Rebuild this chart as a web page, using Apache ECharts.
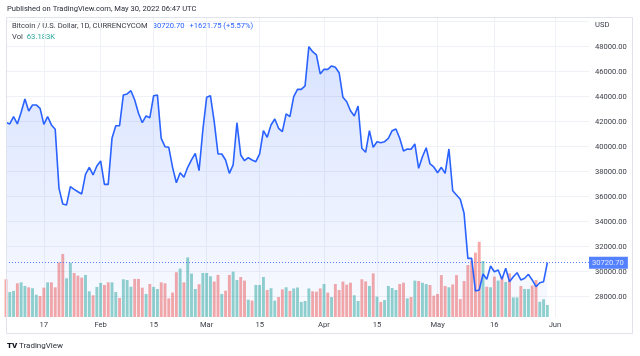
<!DOCTYPE html>
<html><head><meta charset="utf-8">
<script src="https://cdn.jsdelivr.net/npm/echarts@6/dist/echarts.min.js"></script>
<style>html,body{margin:0;padding:0;background:#fff}#c{width:640px;height:356px}</style>
</head><body><div id="c"></div>
<script>
// ---- data ----
const startDate = [2022, 0, 7];      // first visible day (Jan 7, 2022)
const dayCount = 155;                // daily categories up to the right edge of the pane
const tickDates = ['2022-01-17','2022-02-01','2022-02-15','2022-03-01','2022-03-15','2022-04-01','2022-04-15','2022-05-01','2022-05-16','2022-06-01'];
const tickLabels = ['17','Feb','15','Mar','15','Apr','15','May','16','Jun'];

// daily close, USD
const closes = [
 41930,41820,42400,41820,42750,43820,42860,43340,43340,43070,
 41790,42400,41740,41390,36670,35420,35340,36800,36590,36400,
 36220,37790,38350,37740,38460,38860,36990,36990,40670,41680,
 41680,44140,44220,44480,43740,42670,41920,42460,42320,44080,
 44140,40670,40000,39950,38350,37120,37920,37550,38350,38940,
 39470,38080,41340,43950,44080,42000,39420,39420,38940,37870,
 38540,41920,39340,38880,39120,38940,38800,39420,41280,40750,
 41740,42220,41470,41200,42620,42400,44000,44590,44590,44860,
 48000,47600,47340,45820,46190,46190,46460,46350,45920,43950,
 43600,42880,42460,43260,39870,39550,41280,39950,40400,40320,
 40400,40670,41280,41420,40670,39660,39820,39790,40220,38270,
 39200,39920,38620,38380,37920,38350,37870,39820,36480,36140,
 35790,34670,31070,31070,28460,28540,29820,29390,30460,30000,
 30140,29390,30270,29200,29600,29920,29340,29470,29790,29340,
 28800,29120,29200,30720.70
];
// daily volume, thousands
const volumes = [
 198,131,137,177,182,163,156,151,117,110,
 154,182,182,156,287,331,203,285,231,217,
 207,221,135,114,158,179,168,182,182,131,
 100,198,194,159,200,200,154,121,173,158,
 147,182,177,98,128,235,254,182,313,228,
 147,172,231,231,214,186,221,121,138,221,
 238,194,210,191,91,86,168,168,210,142,
 151,86,105,145,156,137,150,155,79,84,
 150,135,133,150,173,128,105,173,142,186,
 170,180,114,84,198,187,163,229,107,79,
 89,163,152,142,173,180,98,105,191,189,
 180,173,168,112,121,220,163,156,171,220,
 94,189,273,296,338,395,294,159,156,212,
 191,212,184,229,103,103,163,147,147,165,
 194,80,93,63.183
];
// volume bar direction: u = up day (teal), d = down day (red)
const volDir = [
 'd','u','u','d','u','u','d','u','u','d',
 'd','u','d','d','d','d','u','u','d','d',
 'd','u','u','d','u','u','d','d','u','u',
 'd','u','u','u','d','d','d','u','d','u',
 'u','d','d','d','d','d','u','d','u','u',
 'u','d','u','u','u','d','d','u','d','d',
 'u','u','d','d','u','d','u','u','u','d',
 'u','u','d','d','u','d','u','u','u','u',
 'u','d','d','d','u','d','u','d','d','d',
 'd','d','u','u','d','d','u','d','u','d',
 'u','u','u','u','d','d','u','d','u','d',
 'u','u','d','d','d','d','d','u','d','d',
 'd','d','d','d','d','d','u','d','u','d',
 'u','d','u','d','u','u','d','u','u','d',
 'd','u','u','u'
];
const symbolText = 'Bitcoin / U.S. Dollar, 1D, CURRENCYCOM';
const changeText = '+1621.75 (+5.57%)';
const volText = '63.183K';
const publishedText = 'Published on TradingView.com, May 30, 2022 06:47 UTC';

// ---- build ----
const categories = [];
const t0 = Date.UTC(startDate[0], startDate[1], startDate[2]);
for (let i = 0; i < dayCount; i++) categories.push(new Date(t0 + i * 86400000).toISOString().slice(0, 10));
const lastPrice = closes[closes.length - 1];

const FONT = 'Roboto, "Liberation Sans", sans-serif';
const TXT = '#3a3d46';
const BLUE = '#2962ff';
const UP = 'rgba(38,166,154,0.5)';
const DOWN = 'rgba(239,83,80,0.5)';
const showTick = (i, v) => tickDates.indexOf(v) >= 0;

const chart = echarts.init(document.getElementById('c'), null, {renderer: 'canvas'});
chart.setOption({
  animation: false,
  backgroundColor: '#ffffff',
  grid: {left: 6, right: 51, top: 17, bottom: 39},
  xAxis: {
    type: 'category', data: categories, boundaryGap: false,
    axisLine: {show: false}, axisTick: {show: false},
    axisLabel: {interval: showTick, formatter: v => tickLabels[tickDates.indexOf(v)] || '',
      fontSize: 7.6, fontFamily: FONT, color: TXT, margin: 4},
    splitLine: {show: true, interval: showTick, lineStyle: {color: '#eef1f6', width: 1}}
  },
  yAxis: [{
    type: 'value', position: 'right', min: 26376, max: 50376, splitNumber: 12,
    axisLine: {show: false}, axisTick: {show: false},
    axisLabel: {showMinLabel: false, showMaxLabel: false, fontSize: 7.6, fontFamily: FONT, color: TXT, margin: 6,
      formatter: v => (v > 49000 ? '' : v.toFixed(2))},
    splitLine: {show: true, showMinLine: false, showMaxLine: false, lineStyle: {color: '#eef1f6', width: 1}}
  }, {
    type: 'value', min: 0, max: 1575, show: false, splitLine: {show: false}
  }],
  series: [{
    type: 'bar', yAxisIndex: 1, barWidth: 2.9, silent: true, z: 1,
    data: volumes.map((v, i) => ({value: v, itemStyle: {color: volDir[i] === 'u' ? UP : DOWN}}))
  }, {
    type: 'line', yAxisIndex: 0, data: closes, symbol: 'none', z: 3, silent: true,
    lineStyle: {color: BLUE, width: 1.6},
    areaStyle: {color: new echarts.graphic.LinearGradient(0, 0, 0, 1, [
      {offset: 0, color: 'rgba(41,98,255,0.26)'},
      {offset: 1, color: 'rgba(41,98,255,0.04)'}])},
    markLine: {
      silent: true, symbol: ['none', 'none'], animation: false,
      data: [{yAxis: lastPrice}],
      lineStyle: {color: BLUE, type: [1, 2], width: 1, opacity: 0.8},
      label: {position: 'end', distance: 0, formatter: () => lastPrice.toFixed(2),
        backgroundColor: BLUE, color: '#fff', fontSize: 7.6, fontFamily: FONT, padding: [2, 4, 2, 3]}
    }
  }],
  graphic: [
    {type: 'rect', shape: {x: 6.5, y: 17.5, width: 626, height: 316}, style: {fill: 'none', stroke: '#e0e3eb', lineWidth: 1}, z: 10, silent: true},
    {type: 'text', x: 7, y: 9, style: {text: publishedText, fontSize: 7.6, fontFamily: FONT, fill: '#2a2e39', verticalAlign: 'middle'}},
    {type: 'text', x: 12, y: 26, style: {
      text: '{a|' + symbolText + '}{s| }{b|' + lastPrice.toFixed(2) + '}{s| }{b|' + changeText + '}',
      verticalAlign: 'middle', fontSize: 7.6, fontFamily: FONT,
      rich: {a: {fill: TXT, fontSize: 7.6, fontFamily: FONT}, b: {fill: BLUE, fontSize: 7.6, fontFamily: FONT}, s: {fontSize: 7.6, width: 5}}}},
    {type: 'text', x: 12, y: 37, style: {
      text: '{a|Vol}{s| }{c|' + volText + '}', verticalAlign: 'middle', fontSize: 7.6, fontFamily: FONT,
      rich: {a: {fill: TXT, fontSize: 7.6, fontFamily: FONT}, c: {fill: '#26a69a', fontSize: 7.6, fontFamily: FONT}, s: {fontSize: 7.6, width: 4}}}},
    {type: 'text', x: 595, y: 25, style: {text: 'USD', fontSize: 7.6, fontFamily: FONT, fill: TXT, verticalAlign: 'middle'}},
    {type: 'text', x: 7, y: 346, style: {text: 'TV', fontSize: 8, fontWeight: 900, fontFamily: FONT, fill: '#131722', verticalAlign: 'middle'}},
    {type: 'text', x: 19, y: 346, style: {text: 'TradingView', fontSize: 8, fontFamily: FONT, fill: '#2a2e39', verticalAlign: 'middle'}}
  ]
});
</script>
</body></html>
